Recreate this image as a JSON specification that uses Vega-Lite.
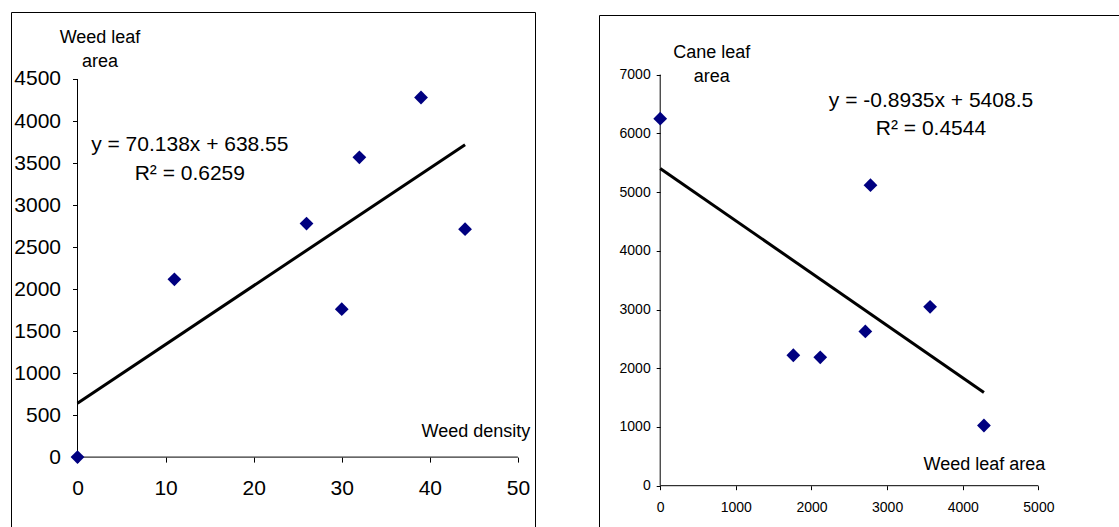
{
  "$schema": "https://vega.github.io/schema/vega-lite/v6.json",
  "background": "white",
  "padding": {"left": 10, "top": 11, "right": 0, "bottom": 0},
  "spacing": 64,
  "bounds": "flush",
  "center": true,
  "config": {
    "font": "Liberation Sans",
    "view": {"stroke": "black", "strokeWidth": 1},
    "axis": {
      "domain": false,
      "grid": false,
      "tickColor": "black",
      "tickWidth": 1,
      "labelColor": "black",
      "titleColor": "black",
      "labelFont": "Liberation Sans",
      "titleFont": "Liberation Sans",
      "titleFontWeight": "normal",
      "titleAngle": 0,
      "titleAlign": "center",
      "titleBaseline": "middle",
      "labelOverlap": false,
      "labelFlush": false,
      "format": "d"
    }
  },
  "datasets": {
    "density": [
      {"density": 0, "leafArea": 0},
      {"density": 11, "leafArea": 2116},
      {"density": 26, "leafArea": 2780},
      {"density": 30, "leafArea": 1760},
      {"density": 32, "leafArea": 3568},
      {"density": 39, "leafArea": 4280},
      {"density": 44, "leafArea": 2712}
    ],
    "cane": [
      {"weedLeafArea": 0, "caneLeafArea": 6250},
      {"weedLeafArea": 2780, "caneLeafArea": 5117},
      {"weedLeafArea": 1760, "caneLeafArea": 2221},
      {"weedLeafArea": 2116, "caneLeafArea": 2186},
      {"weedLeafArea": 2712, "caneLeafArea": 2627},
      {"weedLeafArea": 3568, "caneLeafArea": 3045},
      {"weedLeafArea": 4280, "caneLeafArea": 1025}
    ],
    "single": [{"one": 1}]
  },
  "hconcat": [
    {
      "width": 524,
      "height": 520,
      "data": {"name": "density"},
      "layer": [
        {
          "data": {"name": "single"},
          "mark": {"type": "rule", "color": "black", "strokeWidth": 1},
          "encoding": {
            "x": {"datum": 0, "type": "quantitative"},
            "x2": {"datum": 50},
            "y": {"datum": 0, "type": "quantitative"}
          }
        },
        {
          "data": {"name": "single"},
          "mark": {"type": "rule", "color": "black", "strokeWidth": 1},
          "encoding": {
            "x": {"datum": 0, "type": "quantitative"},
            "y": {"datum": 0, "type": "quantitative"},
            "y2": {"datum": 4500}
          }
        },
        {
          "transform": [{"regression": "leafArea", "on": "density"}],
          "mark": {"type": "line", "color": "black", "strokeWidth": 3},
          "encoding": {
            "x": {"field": "density", "type": "quantitative"},
            "y": {"field": "leafArea", "type": "quantitative"}
          }
        },
        {
          "mark": {"type": "point", "shape": "diamond", "filled": true, "color": "#000080", "size": 190, "opacity": 1},
          "encoding": {
            "x": {
              "field": "density",
              "type": "quantitative",
              "scale": {"domain": [-7.55, 51.94], "nice": false, "zero": false},
              "axis": {
                "values": [0, 10, 20, 30, 40, 50],
                "offset": -74.9,
                "tickSize": 5,
                "labelFontSize": 21,
                "labelBaseline": "middle",
                "labelPadding": 26,
                "title": "Weed density",
                "titleFontSize": 18,
                "titleX": 464.4,
                "titleY": -25.8
              }
            },
            "y": {
              "field": "leafArea",
              "type": "quantitative",
              "scale": {"domain": [-891.4, 5297.4], "nice": false, "zero": false},
              "axis": {
                "values": [0, 500, 1000, 1500, 2000, 2500, 3000, 3500, 4000, 4500],
                "offset": -66.5,
                "tickSize": 5,
                "labelFontSize": 21,
                "labelPadding": 12,
                "title": ["Weed leaf", "area"],
                "titleFontSize": 18,
                "titleLineHeight": 24.5,
                "titleX": 22,
                "titleY": 25
              }
            }
          }
        },
        {
          "data": {"name": "single"},
          "mark": {"type": "text", "fontSize": 21, "fontWeight": 400, "lineHeight": 29, "align": "center", "baseline": "middle", "fill": "black"},
          "encoding": {
            "x": {"datum": 12.75, "type": "quantitative"},
            "y": {"datum": 3716, "type": "quantitative"},
            "text": {"value": ["y = 70.138x + 638.55", "R² = 0.6259"]}
          }
        }
      ]
    },
    {
      "width": 525,
      "height": 514,
      "data": {"name": "cane"},
      "layer": [
        {
          "data": {"name": "single"},
          "mark": {"type": "rule", "color": "black", "strokeWidth": 1},
          "encoding": {
            "x": {"datum": 0, "type": "quantitative"},
            "x2": {"datum": 5000},
            "y": {"datum": 0, "type": "quantitative"}
          }
        },
        {
          "data": {"name": "single"},
          "mark": {"type": "rule", "color": "black", "strokeWidth": 1},
          "encoding": {
            "x": {"datum": 0, "type": "quantitative"},
            "y": {"datum": 0, "type": "quantitative"},
            "y2": {"datum": 7000}
          }
        },
        {
          "transform": [{"regression": "caneLeafArea", "on": "weedLeafArea"}],
          "mark": {"type": "line", "color": "black", "strokeWidth": 3},
          "encoding": {
            "x": {"field": "weedLeafArea", "type": "quantitative"},
            "y": {"field": "caneLeafArea", "type": "quantitative"}
          }
        },
        {
          "mark": {"type": "point", "shape": "diamond", "filled": true, "color": "#000080", "size": 190, "opacity": 1},
          "encoding": {
            "x": {
              "field": "weedLeafArea",
              "type": "quantitative",
              "scale": {"domain": [-809.1, 6131.7], "nice": false, "zero": false},
              "axis": {
                "values": [0, 1000, 2000, 3000, 4000, 5000],
                "offset": -43.3,
                "tickSize": 4,
                "labelFontSize": 14,
                "labelBaseline": "middle",
                "labelPadding": 18,
                "title": "Weed leaf area",
                "titleFontSize": 18,
                "titleX": 384.9,
                "titleY": -21.5
              }
            },
            "y": {
              "field": "caneLeafArea",
              "type": "quantitative",
              "scale": {"domain": [-737.3, 8014.8], "nice": false, "zero": false},
              "axis": {
                "values": [0, 1000, 2000, 3000, 4000, 5000, 6000, 7000],
                "offset": -61.2,
                "tickSize": 4,
                "labelFontSize": 14,
                "labelPadding": 6,
                "title": ["Cane leaf", "area"],
                "titleFontSize": 18,
                "titleLineHeight": 24.5,
                "titleX": 51,
                "titleY": 37
              }
            }
          }
        },
        {
          "data": {"name": "single"},
          "mark": {"type": "text", "fontSize": 21, "fontWeight": 400, "lineHeight": 28.6, "align": "center", "baseline": "middle", "fill": "black"},
          "encoding": {
            "x": {"datum": 3580, "type": "quantitative"},
            "y": {"datum": 6554, "type": "quantitative"},
            "text": {"value": ["y = -0.8935x + 5408.5", "R² = 0.4544"]}
          }
        }
      ]
    }
  ]
}
